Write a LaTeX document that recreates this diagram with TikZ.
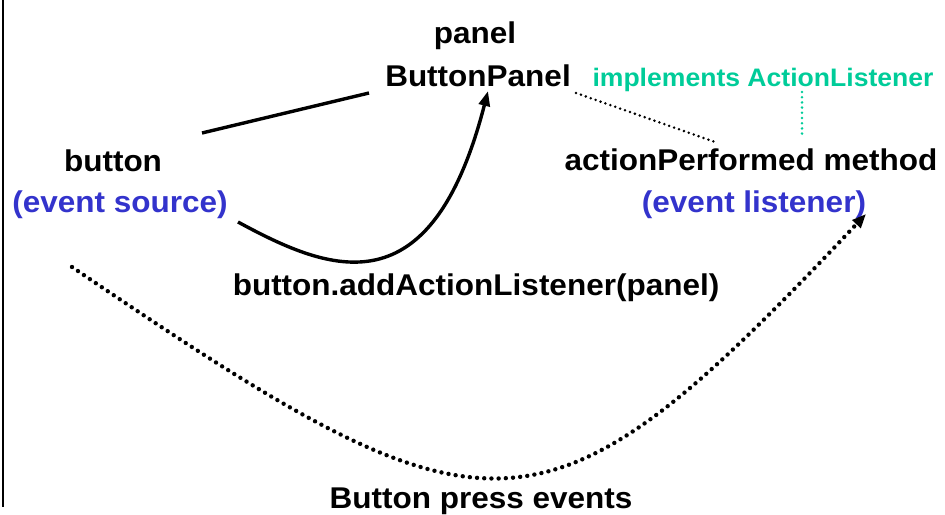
\documentclass[tikz,border=0pt]{standalone}
\usepackage{fontspec}
\setmainfont{Liberation Sans}[FakeStretch=1.05]
\usetikzlibrary{arrows.meta}
\definecolor{ifacegreen}{HTML}{00CC99}
\definecolor{roleblue}{HTML}{3333CC}
\begin{document}
\begin{tikzpicture}[x=1pt,y=-1pt,
  lbl/.style={font=\fontsize{30}{35}\selectfont\bfseries, anchor=base, inner sep=0pt},
  small/.style={font=\fontsize{25.3}{30}\selectfont\bfseries, anchor=base, inner sep=0pt, text=ifacegreen},
  solidline/.style={line width=3.4pt},
  bigdots/.style={line width=4.4pt, line cap=round, dash pattern=on 0pt off 7.2pt},
  finedots/.style={line width=2.8pt, line cap=round, dash pattern=on 0pt off 5.2pt},
]
\useasboundingbox (0,0) rectangle (945,514);

% frame edge on the left
\draw[line width=2.6pt] (3,0) -- (3,507);

% text labels
\node[lbl] (panel) at (475,43) {panel};
\node[lbl] (bpanel) at (478,86) {ButtonPanel};
\node[small] (impl) at (763,86) {implements ActionListener};
\node[lbl] (button) at (113,171) {button};
\node[lbl, text=roleblue] (source) at (120,212) {(event source)};
\node[lbl] (method) at (751,170) {actionPerformed method};
\node[lbl, text=roleblue] (listener) at (754,212) {(event listener)};
\node[lbl] (add) at (476,295) {button.addActionListener(panel)};
\node[lbl] (press) at (481,508) {Button press events};

% connector end points
\coordinate (btnEnd) at (202,133);
\coordinate (bpEnd) at (369,93);
\coordinate (srcEnd) at (238,222);
\coordinate (bpTip) at (488,91);
\coordinate (bpRight) at (576,93);
\coordinate (methEnd) at (715,142);
\coordinate (implFoot) at (802,92);
\coordinate (methTop) at (802,137);
\coordinate (pressStart) at (72,267);
\coordinate (lisTip) at (866,214);

% button belongs to the panel
\draw[solidline] (btnEnd) -- (bpEnd);

% registration of the listener
\draw[solidline, -{Triangle[length=15pt,width=11pt]}]
  (srcEnd) .. controls (330,272) and (431,312) .. (bpTip);

% panel supplies the method; the method implements the interface
\draw[finedots] (bpRight) -- (methEnd);
\draw[finedots, ifacegreen] (implFoot) -- (methTop);

% events travel from source to listener
\draw[bigdots, -{Triangle[length=14pt,width=11pt]}]
  (pressStart) .. controls (492,552) and (540,560) .. (lisTip);
\end{tikzpicture}
\end{document}
